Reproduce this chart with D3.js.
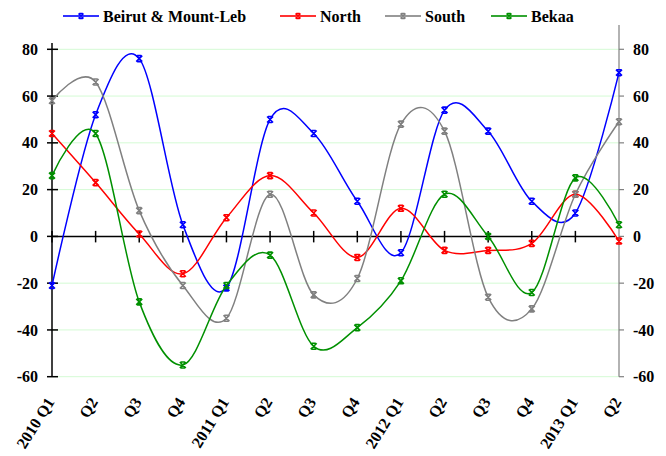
<!DOCTYPE html>
<html><head><meta charset="utf-8">
<script src="https://cdn.jsdelivr.net/npm/d3@7"></script>
<style>
html,body{margin:0;padding:0;background:#fff;}
svg{display:block;}
text{font-family:"Liberation Serif","Times New Roman",serif;font-weight:bold;}
</style></head>
<body>
<svg id="chart" width="666" height="456"></svg>
<script>
const categories = ["2010 Q1","Q2","Q3","Q4","2011 Q1","Q2","Q3","Q4","2012 Q1","Q2","Q3","Q4","2013 Q1","Q2"];
const seriesNames = ["Beirut & Mount-Leb","North","South","Bekaa"];
const beirut = [-21,52,76,5,-22,50,44,15,-7,54,45,15,10,70];
const north  = [44,23,1,-16,8,26,10,-9,12,-6,-6,-3,18,-2];
const south  = [58,66,11,-21,-35,18,-25,-18,48,45,-26,-31,18,49];
const bekaa  = [26,44,-28,-55,-21,-8,-47,-39,-19,18,0,-24,25,5];
const yTicks = [-60,-40,-20,0,20,40,60,80];
const colors = ["#0000ff","#ff0000","#808080","#009000"];

const svg = d3.select("#chart");
const pL = 52, pR = 619, pT = 49.3, pB = 376.7;
const x = d3.scalePoint().domain(d3.range(categories.length)).range([pL, pR]);
const y = d3.scaleLinear().domain([-60, 80]).range([pB, pT]);

// gridlines
svg.append("g").selectAll("line").data(yTicks.filter(d => d !== 0)).join("line")
  .attr("x1", pL).attr("x2", pR)
  .attr("y1", d => y(d)).attr("y2", d => y(d))
  .attr("stroke", "#d4fbd4").attr("stroke-width", 1);

// left axis
const ga = svg.append("g");
ga.append("line").attr("x1", pL).attr("x2", pL).attr("y1", 43).attr("y2", y(-60))
  .attr("stroke", "#000").attr("stroke-width", 1.5);
ga.selectAll("line.t").data(yTicks).join("line").attr("class","t")
  .attr("x1", pL - 5).attr("x2", pL + 6)
  .attr("y1", d => y(d)).attr("y2", d => y(d))
  .attr("stroke", "#000").attr("stroke-width", 1.5);
ga.selectAll("text").data(yTicks).join("text")
  .attr("x", 38).attr("y", d => y(d)).attr("dy", "0.35em")
  .attr("text-anchor", "end").attr("font-size", 16).text(d => d);

// right axis
const gr = svg.append("g");
gr.append("line").attr("x1", pR).attr("x2", pR).attr("y1", 25).attr("y2", y(-60))
  .attr("stroke", "#808080").attr("stroke-width", 1.2);
gr.selectAll("line.t").data(yTicks).join("line").attr("class","t")
  .attr("x1", pR).attr("x2", pR + 5)
  .attr("y1", d => y(d)).attr("y2", d => y(d))
  .attr("stroke", "#808080").attr("stroke-width", 1.2);
gr.selectAll("text").data(yTicks).join("text")
  .attr("x", 633).attr("y", d => y(d)).attr("dy", "0.35em")
  .attr("text-anchor", "start").attr("font-size", 16).text(d => d);

// zero line + category ticks
const gz = svg.append("g");
gz.append("line").attr("x1", pL).attr("x2", pR - 4).attr("y1", y(0)).attr("y2", y(0))
  .attr("stroke", "#000").attr("stroke-width", 1.5);
gz.selectAll("line.t").data(d3.range(categories.length - 1)).join("line").attr("class","t")
  .attr("x1", d => x(d)).attr("x2", d => x(d))
  .attr("y1", y(0) - 5.5).attr("y2", y(0) + 6)
  .attr("stroke", "#000").attr("stroke-width", 1.5);

// category labels
svg.append("g").selectAll("text").data(categories).join("text")
  .attr("transform", (d, i) => `translate(${x(i) + 3},${402}) rotate(-58)`)
  .attr("text-anchor", "end").attr("font-size", 16).text(d => d);

// marker
function markerPath(s) {
  const h = s;
  return `M${-h},${-h}L${h},${h}M${-h},${h}L${h},${-h}M${-h*0.7},${-h}L${h*0.7},${-h}M${-h*0.7},${h}L${h*0.7},${h}`;
}

const allSeries = [beirut, north, south, bekaa];
const line = d3.line().x((d, i) => x(i)).y(d => y(d)).curve(d3.curveCatmullRom.alpha(0));

allSeries.forEach((vals, k) => {
  const g = svg.append("g");
  g.append("path").datum(vals).attr("d", line)
    .attr("fill", "none").attr("stroke", colors[k]).attr("stroke-width", 1.5);
  g.selectAll("path.m").data(vals).join("path").attr("class", "m")
    .attr("transform", (d, i) => `translate(${x(i)},${y(d)})`)
    .attr("d", markerPath(3))
    .attr("fill", "none").attr("stroke", colors[k]).attr("stroke-width", 1.6);
});

// legend
const legX = [63, 280, 385, 491];
const lg = svg.append("g");
seriesNames.forEach((name, k) => {
  const g = lg.append("g").attr("transform", `translate(${legX[k]},16)`);
  g.append("line").attr("x1", 0).attr("x2", 36).attr("y1", 0).attr("y2", 0)
    .attr("stroke", colors[k]).attr("stroke-width", 2).attr("opacity", 0.8);
  g.append("path").attr("transform", "translate(18,0)").attr("d", markerPath(2.5))
    .attr("fill", "none").attr("stroke", colors[k]).attr("stroke-width", 1.5);
  g.append("text").attr("x", 40).attr("y", 0).attr("dy", "0.35em")
    .attr("font-size", 16).text(name);
});
</script>
</body></html>
